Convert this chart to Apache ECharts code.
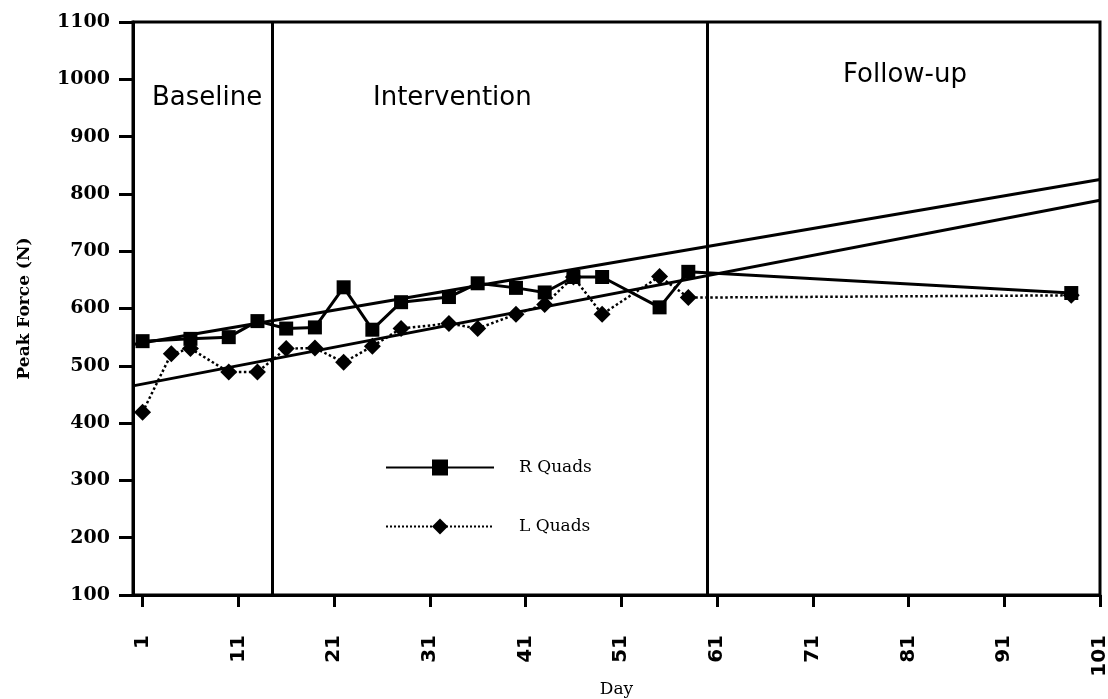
<!DOCTYPE html>
<html>
<head>
<meta charset="utf-8">
<title>Peak Force by Day</title>
<script src="https://cdn.jsdelivr.net/npm/echarts@6/dist/echarts.min.js"></script>
<style>
  html, body { margin: 0; padding: 0; background: #fff; }
  #chart { width: 1108px; height: 699px; }
</style>
</head>
<body>
<div id="chart"></div>
<script>
// Session days and peak force (N) for each quadriceps
const rDays   = [1, 6, 10, 13, 16, 19, 22, 25, 28, 33, 36, 40, 43, 46, 49, 55, 58, 98];
const rQuads  = [543, 547, 550, 578, 565, 567, 637, 563, 611, 620, 644, 636, 628, 655, 655, 602, 664, 627];
const lDays   = [1, 4, 6, 10, 13, 16, 19, 22, 25, 28, 33, 36, 40, 43, 46, 49, 55, 58, 98];
const lQuads  = [419, 521, 530, 489, 489, 530, 531, 506, 534, 565, 574, 565, 590, 607, 655, 590, 656, 619, 623];

// Linear trend lines (start / end of the day range)
const trendDays = [0, 101];
const rTrend    = [537, 825];
const lTrend    = [465, 789];

// Phase boundaries and their titles
const phaseChanges = [14.5, 60];
const phaseNames   = ['Baseline', 'Intervention', 'Follow-up'];

// Axis ticks
const dayTicks = [1, 11, 21, 31, 41, 51, 61, 71, 81, 91, 101];

const pair = (xs, ys) => xs.map((x, i) => [x, ys[i]]);

const chart = echarts.init(document.getElementById('chart'), null, { renderer: 'canvas' });

const ink = '#000';
const phaseFont = '26px "DejaVu Sans"';

chart.setOption({
  backgroundColor: '#fff',
  animation: false,
  grid: {
    left: 133, right: 8, top: 22, bottom: 104,
    outerBoundsMode: 'none',
    containLabel: false,
    show: true, borderColor: ink, borderWidth: 3, backgroundColor: 'transparent'
  },
  legend: {
    data: ['R Quads', 'L Quads'],
    orient: 'vertical',
    left: 380, top: 454,
    itemWidth: 108, itemHeight: 20, itemGap: 42,
    selectedMode: false,
    textStyle: {
      fontFamily: 'DejaVu Serif', fontSize: 17, color: ink,
      padding: [0, 0, 0, 20]
    }
  },
  xAxis: {
    type: 'value',
    min: 0, max: 101,
    name: 'Day',
    nameLocation: 'middle',
    nameGap: 86,
    nameMoveOverlap: false,
    nameTextStyle: { fontFamily: 'DejaVu Serif', fontSize: 17, color: ink },
    splitLine: { show: false },
    axisLine: { onZero: false, lineStyle: { color: ink, width: 3 } },
    axisTick: { customValues: dayTicks, length: 12, lineStyle: { color: ink, width: 3 } },
    axisLabel: {
      customValues: dayTicks,
      rotate: 90, margin: 40,
      fontFamily: 'DejaVu Sans', fontWeight: 'bold', fontSize: 20, color: ink
    }
  },
  yAxis: {
    type: 'value',
    min: 100, max: 1100, interval: 100,
    name: 'Peak Force (N)',
    nameLocation: 'middle',
    nameGap: 100,
    nameMoveOverlap: false,
    nameTextStyle: { fontFamily: 'DejaVu Serif', fontWeight: 'bold', fontSize: 17, color: ink },
    splitLine: { show: false },
    axisLine: { lineStyle: { color: ink, width: 3 } },
    axisTick: { length: 14, lineStyle: { color: ink, width: 3 } },
    axisLabel: {
      margin: 23,
      formatter: v => String(v),
      fontFamily: 'DejaVu Serif', fontWeight: 'bold', fontSize: 19, color: ink
    }
  },
  graphic: [
    { type: 'text', left: 152, top: 85, style: { text: phaseNames[0], font: phaseFont, fill: ink } },
    { type: 'text', left: 373, top: 85, style: { text: phaseNames[1], font: phaseFont, fill: ink } },
    { type: 'text', left: 843, top: 62, style: { text: phaseNames[2], font: phaseFont, fill: ink } }
  ],
  series: [
    {
      name: 'R trend',
      type: 'line',
      data: pair(trendDays, rTrend),
      symbol: 'none',
      lineStyle: { color: ink, width: 3 },
      silent: true,
      markLine: {
        silent: true,
        symbol: ['none', 'none'],
        label: { show: false },
        lineStyle: { color: ink, width: 3, type: 'solid' },
        data: phaseChanges.map(d => ({ xAxis: d }))
      }
    },
    {
      name: 'L trend',
      type: 'line',
      data: pair(trendDays, lTrend),
      symbol: 'none',
      lineStyle: { color: ink, width: 3 },
      silent: true
    },
    {
      name: 'L Quads',
      type: 'line',
      data: pair(lDays, lQuads),
      symbol: 'diamond',
      symbolSize: 17,
      itemStyle: { color: ink },
      lineStyle: { color: ink, width: 2.5, type: 'dotted' },
      z: 3
    },
    {
      name: 'R Quads',
      type: 'line',
      data: pair(rDays, rQuads),
      symbol: 'rect',
      symbolSize: 14,
      itemStyle: { color: ink },
      lineStyle: { color: ink, width: 3 },
      z: 4
    }
  ]
});
</script>
</body>
</html>
